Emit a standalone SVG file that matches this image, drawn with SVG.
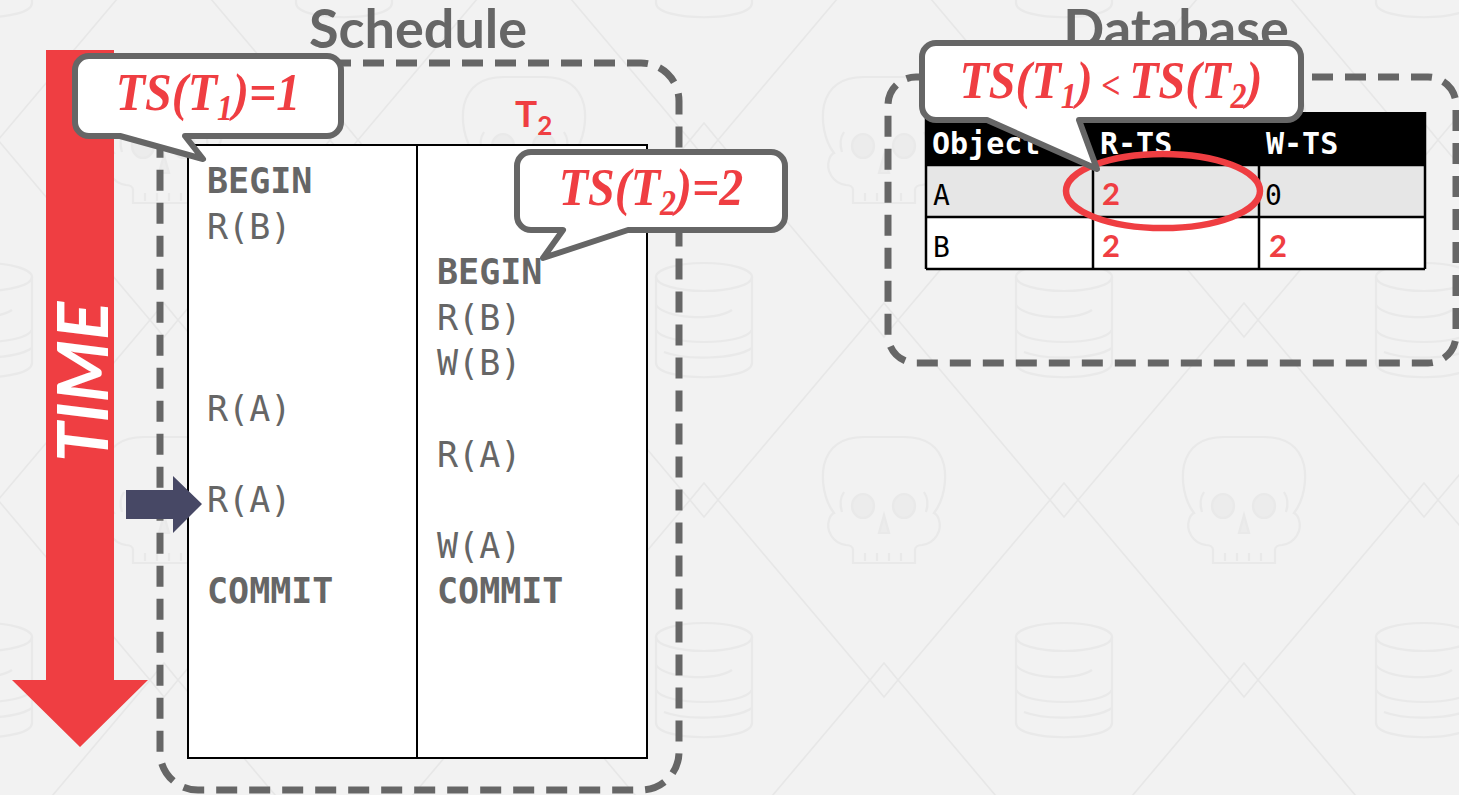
<svg xmlns="http://www.w3.org/2000/svg" width="1459" height="795" viewBox="0 0 1459 795">
<style>
.bgline{fill:none;stroke:#e7e7e7;stroke-width:1.6}
.icon{fill:none;stroke:#e9e9e9;stroke-width:2.2}
.dash{fill:none;stroke:#666;stroke-width:7;stroke-dasharray:21 12}
.title{font-family:Lato,"Liberation Sans",sans-serif;font-weight:bold;fill:#666;text-anchor:middle}
.op{font-family:"DejaVu Sans Mono","Liberation Mono",monospace;font-size:35px;fill:#666}
.opb{font-family:"DejaVu Sans Mono","Liberation Mono",monospace;font-size:35px;fill:#666;font-weight:bold}
.callout{fill:#fff;stroke:#666;stroke-width:6;stroke-linejoin:round}
.th{font-family:"DejaVu Sans Mono","Liberation Mono",monospace;font-size:30px;fill:#fff;font-weight:bold}
.td{font-family:"DejaVu Sans Mono","Liberation Mono",monospace;font-size:28px;fill:#000}
.tr{font-family:Lato,"Liberation Sans",sans-serif;font-size:31px;fill:#ef3e42;font-weight:bold}
.grid{stroke:#000;stroke-width:2.5}
</style>
<defs>
<g id="skull">
<path d="M-31,63 V50 C-31,47 -34,45 -38,45 C-52,43 -58,30 -55,20 C-54,16 -52,14 -50,13 C-60,0 -63,-20 -60,-35 C-55,-55 -40,-63 -20,-63 H20 C40,-63 55,-55 60,-35 C63,-20 60,0 50,13 C52,14 54,16 55,20 C58,30 52,43 38,45 C34,45 31,47 31,50 V63 Z"/>
<path d="M-40,-8 C-44,-2 -44,6 -42,12 M40,-8 C44,-2 44,6 42,12"/>
<ellipse cx="-21" cy="6" rx="11" ry="12" style="fill:#ececec"/>
<ellipse cx="20" cy="6" rx="11" ry="12" style="fill:#ececec"/>
<path d="M0,15 L-5,33 H5 Z" style="fill:#ececec"/>
<path d="M-19,53 V61 M-7,53 V61 M5,53 V61 M17,53 V61"/>
</g>
<g id="db">
<ellipse cx="0" cy="-43" rx="48" ry="14"/>
<path d="M-48,-43 V43 C-48,62 48,62 48,43 V-43"/>
<path d="M-48,-15 C-40,-2 10,2 28,-10 M-48,10 C-40,26 40,26 48,10 M-40,32 C-20,40 30,40 48,28"/>
</g>
<pattern id="bg" x="344" y="320" width="360" height="360" patternUnits="userSpaceOnUse">
<rect width="360" height="360" fill="#f2f2f2"/>
<path class="bgline" d="M14,180 L166,0 M194,0 L346,180 M346,180 L194,360 M166,360 L14,180"/>
<path class="bgline" d="M-14,180 L0,163 L14,180 L0,197 Z M346,180 L360,163 L374,180 L360,197 Z M166,0 L180,-17 L194,0 L180,17 Z M166,360 L180,343 L194,360 L180,377 Z"/>
<g class="icon">
<use href="#skull" x="180" y="180"/>
<use href="#db" x="0" y="0"/>
<use href="#db" x="360" y="0"/>
<use href="#db" x="0" y="360"/>
<use href="#db" x="360" y="360"/>
</g>
</pattern>
</defs>
<rect width="1459" height="795" fill="url(#bg)"/>

<g id="time-arrow">
<polygon points="46,50 114,50 114,680 148,680 80,747 12,680 46,680" fill="#ef3e42"/>
<text transform="translate(108,382) rotate(-90)" x="0" y="0" font-family="Lato, 'Liberation Sans', sans-serif" font-weight="bold" font-style="italic" font-size="71" fill="#fff" text-anchor="middle">TIME</text>
</g>

<g id="schedule">
<text class="title" x="418" y="48" style="font-size:54px">Schedule</text>
<rect class="dash" x="160" y="63" width="519" height="727" rx="38"/>
<rect x="188" y="145" width="459" height="613" fill="#fff" stroke="#000" stroke-width="2"/>
<line x1="417" y1="145" x2="417" y2="758" stroke="#000" stroke-width="2"/>
<text x="515" y="127" style="font-family:Lato,'Liberation Sans',sans-serif;font-weight:bold;font-size:37px;fill:#ef3e42">T<tspan dy="8" style="font-size:26px">2</tspan></text>
</g>

<g id="t1-ops">
<text class="opb" x="207" y="193">BEGIN</text>
<text class="op" x="207" y="238.6">R(B)</text>
<text class="op" x="207" y="421">R(A)</text>
<text class="op" x="207" y="512.2">R(A)</text>
<text class="opb" x="207" y="603.4">COMMIT</text>
</g>

<g id="t2-ops">
<text class="opb" x="437" y="284.2">BEGIN</text>
<text class="op" x="437" y="329.8">R(B)</text>
<text class="op" x="437" y="375.4">W(B)</text>
<text class="op" x="437" y="466.6">R(A)</text>
<text class="op" x="437" y="557.8">W(A)</text>
<text class="opb" x="437" y="603.4">COMMIT</text>
</g>

<g id="database">
<text class="title" x="1176" y="48" style="font-size:54px">Database</text>
<rect class="dash" x="888" y="77" width="568" height="286" rx="28"/>
</g>

<g id="ts-table">
<rect x="926" y="112" width="499" height="53" fill="#000"/>
<rect x="926" y="165" width="499" height="52" fill="#e6e6e6"/>
<rect x="926" y="217" width="499" height="52" fill="#fff"/>
<g class="grid">
<line x1="926" y1="165" x2="1425" y2="165"/>
<line x1="926" y1="217" x2="1425" y2="217"/>
<line x1="926" y1="269" x2="1425" y2="269"/>
<line x1="926" y1="112" x2="926" y2="269"/>
<line x1="1425" y1="112" x2="1425" y2="269"/>
<line x1="1093" y1="165" x2="1093" y2="269"/>
<line x1="1259" y1="165" x2="1259" y2="269"/>
</g>
<text class="th" x="932" y="154">Object</text>
<text class="th" x="1100" y="154">R-TS</text>
<text class="th" x="1266" y="154">W-TS</text>
<text class="td" x="933" y="205">A</text>
<text class="tr" x="1102" y="205">2</text>
<text class="td" x="1265" y="205">0</text>
<text class="td" x="933" y="257">B</text>
<text class="tr" x="1102" y="257">2</text>
<text class="tr" x="1269" y="257">2</text>
</g>

<g id="highlight">
<ellipse cx="1163" cy="191" rx="97" ry="37" fill="none" stroke="#ef3e42" stroke-width="6.5"/>
</g>

<g id="current-arrow">
<polygon points="126,490 173,490 173,476 202,504 173,533 173,519 126,519" fill="#474865"/>
</g>

<g id="callout-t1">
<path class="callout" d="M89,56 H327 A14,14 0 0 1 341,70 V122 A14,14 0 0 1 327,136 H185 L203,159 L120,136 H89 A14,14 0 0 1 75,122 V70 A14,14 0 0 1 89,56 Z"/>
<text transform="translate(208,110) scale(1,1.12)" x="0" y="0" font-family="Liberation Serif, DejaVu Serif, serif" font-style="italic" font-weight="bold" font-size="48" fill="#ef3e42" text-anchor="middle">TS(T<tspan dy="9" font-size="32">1</tspan><tspan dy="-9">)=1</tspan></text>
</g>

<g id="callout-t2">
<path class="callout" d="M531,152 H771 A14,14 0 0 1 785,166 V216 A14,14 0 0 1 771,230 H628 L543,258 L563,230 H531 A14,14 0 0 1 517,216 V166 A14,14 0 0 1 531,152 Z"/>
<text transform="translate(651,205) scale(1,1.12)" x="0" y="0" font-family="Liberation Serif, DejaVu Serif, serif" font-style="italic" font-weight="bold" font-size="48" fill="#ef3e42" text-anchor="middle">TS(T<tspan dy="9" font-size="32">2</tspan><tspan dy="-9">)=2</tspan></text>
</g>

<g id="callout-cmp">
<path class="callout" d="M936,43 H1287 A14,14 0 0 1 1301,57 V106 A14,14 0 0 1 1287,120 H1079 L1097,169 L987,120 H936 A14,14 0 0 1 922,106 V57 A14,14 0 0 1 936,43 Z"/>
<text transform="translate(1111,98) scale(1,1.12)" x="0" y="0" font-family="Liberation Serif, DejaVu Serif, serif" font-style="italic" font-weight="bold" font-size="48" fill="#ef3e42" text-anchor="middle">TS(T<tspan dy="9" font-size="32">1</tspan><tspan dy="-9">)</tspan><tspan font-size="34"> &lt; </tspan>TS(T<tspan dy="9" font-size="32">2</tspan><tspan dy="-9">)</tspan></text>
</g>
</svg>
